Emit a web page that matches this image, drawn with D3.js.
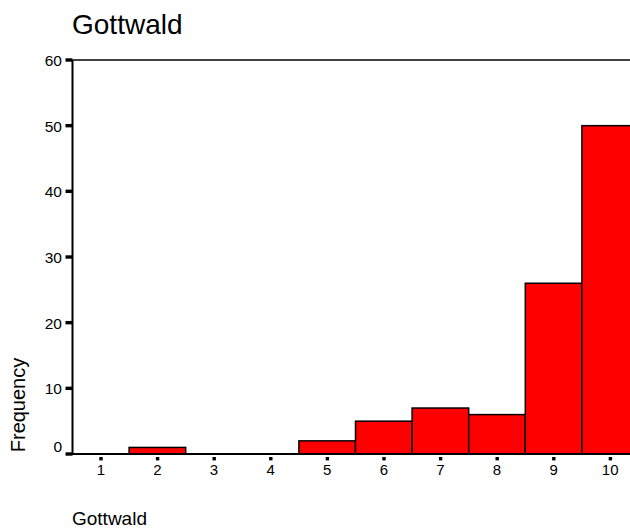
<!DOCTYPE html>
<meta charset="utf-8">
<script src="https://d3js.org/d3.v7.min.js"></script>
<style>
  body { margin: 0; background: #fff; }
  text { font-family: Arial, "Liberation Sans", sans-serif; fill: #000; }
</style>
<div id="chart"></div>
<script>
// histogram counts per score
var categories = [1, 2, 3, 4, 5, 6, 7, 8, 9, 10];
var counts = [0, 1, 0, 0, 2, 5, 7, 6, 26, 50];
var yTicks = [0, 10, 20, 30, 40, 50, 60];

var width = 630, height = 528;
var plotLeft = 72.5, plotTop = 60, plotBottom = 454;

var svg = d3.select("#chart").append("svg")
  .attr("width", width)
  .attr("height", height);

var x = d3.scaleLinear().domain([0.5, 10.5]).range([plotLeft, 638.5]);
var y = d3.scaleLinear().domain([0, 60]).range([plotBottom, plotTop]);

// bars
svg.selectAll("rect.bar")
  .data(categories.map(function(c, i) { return {c: c, v: counts[i]}; })
    .filter(function(d) { return d.v > 0; }))
  .enter().append("rect")
    .attr("class", "bar")
    .attr("x", function(d) { return x(d.c - 0.5); })
    .attr("y", function(d) { return y(d.v); })
    .attr("width", function(d) { return x(d.c + 0.5) - x(d.c - 0.5); })
    .attr("height", function(d) { return y(0) - y(d.v); })
    .style("fill", "#ff0000")
    .style("stroke", "#000")
    .style("stroke-width", 1.5);

// frame: top line, left axis, bottom axis
svg.append("line")
  .attr("x1", plotLeft).attr("x2", width).attr("y1", y(60)).attr("y2", y(60))
  .style("stroke", "#000").style("stroke-width", 1.5);
svg.append("line")
  .attr("x1", plotLeft).attr("x2", plotLeft).attr("y1", y(60)).attr("y2", y(0) + 1)
  .style("stroke", "#000").style("stroke-width", 2);
svg.append("line")
  .attr("x1", plotLeft).attr("x2", width).attr("y1", y(0)).attr("y2", y(0))
  .style("stroke", "#000").style("stroke-width", 2);

// y ticks
svg.selectAll("rect.ytick")
  .data(yTicks)
  .enter().append("rect")
    .attr("class", "ytick")
    .attr("x", plotLeft - 7)
    .attr("y", function(d) { return y(d) - 1.7; })
    .attr("width", 7)
    .attr("height", 3.4)
    .style("fill", "#000");

svg.selectAll("text.ylab")
  .data(yTicks)
  .enter().append("text")
    .attr("class", "ylab")
    .attr("x", 62)
    .attr("y", function(d) { return d === 0 ? y(d) - 2 : y(d) + 6; })
    .attr("text-anchor", "end")
    .style("font-size", "15.5px")
    .text(function(d) { return d; });

// x ticks
svg.selectAll("rect.xtick")
  .data(categories)
  .enter().append("rect")
    .attr("class", "xtick")
    .attr("x", function(d) { return x(d) - 1.5; })
    .attr("y", plotBottom + 3)
    .attr("width", 3.4)
    .attr("height", 3.4)
    .style("fill", "#000");

svg.selectAll("text.xlab")
  .data(categories)
  .enter().append("text")
    .attr("class", "xlab")
    .attr("x", function(d) { return x(d); })
    .attr("y", 475)
    .attr("text-anchor", "middle")
    .style("font-size", "15px")
    .text(function(d) { return d; });

// titles
svg.append("text")
  .attr("x", 72)
  .attr("y", 34)
  .style("font-size", "28px")
  .text("Gottwald");

svg.append("text")
  .attr("transform", "translate(25,405) rotate(-90)")
  .attr("text-anchor", "middle")
  .style("font-size", "20px")
  .text("Frequency");

svg.append("text")
  .attr("x", 72)
  .attr("y", 525)
  .style("font-size", "19px")
  .text("Gottwald");
</script>
